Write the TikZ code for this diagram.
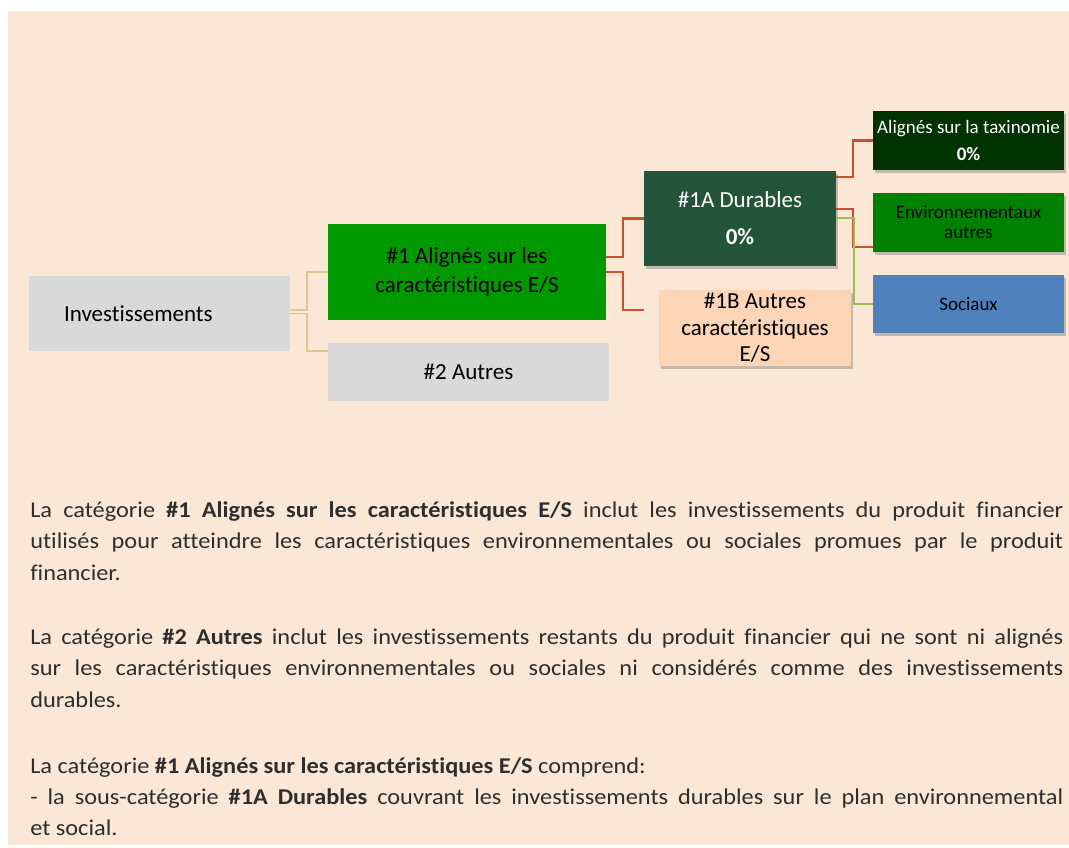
\documentclass[tikz,border=0pt]{standalone}
\usepackage{fontspec}
\setmainfont{Carlito}[Ligatures={NoCommon}]
\newfontfamily\bodyfont{Carlito}[FakeStretch=1.08,Ligatures={NoCommon}]
\usetikzlibrary{shadows,calc}
\definecolor{bgpeach}{HTML}{FAE7D6}
\definecolor{boxgray}{HTML}{D9D9D9}
\definecolor{greenone}{HTML}{009900}
\definecolor{darkgreenA}{HTML}{24553A}
\definecolor{peachB}{HTML}{FBD5B5}
\definecolor{taxogreen}{HTML}{003300}
\definecolor{envgreen}{HTML}{008000}
\definecolor{socblue}{HTML}{4F81BD}
\definecolor{khakiline}{HTML}{D6CA92}
\definecolor{redline}{HTML}{C8502E}
\definecolor{greenline}{HTML}{9BBB59}
\definecolor{bodygray}{HTML}{2E2E2E}
\begin{document}
\begin{tikzpicture}[x=0.75pt,y=-0.75pt,
  box/.style={rectangle, inner sep=0pt, align=center, text=black, font=\fontsize{17.25}{21.75}\selectfont},
  smallbox/.style={box, minimum width=143.25pt, font=\fontsize{14.25}{20.25}\selectfont},
  shad/.style={drop shadow={shadow xshift=1.8pt, shadow yshift=-2.2pt, opacity=0.3, fill=black!70}},
  khaki/.style={draw=khakiline, line width=1.4pt},
  redc/.style={draw=redline, line width=1.6pt},
  greenc/.style={draw=greenline, line width=1.5pt},
  bodyline/.style={anchor=base west, inner sep=0pt, text=bodygray, font=\bodyfont\fontsize{16.9}{20}\selectfont}
]
\useasboundingbox (0,0) rectangle (1069,848);
\fill[white] (0,0) rectangle (1069,848);
\fill[bgpeach] (8,11) rectangle (1069,845);

% boxes
\node[box, fill=boxgray, minimum height=56.25pt, text width=195.75pt, align=left] (inv) at (159.5,313.5) {\hspace*{26.25pt}Investissements};
\node[box, fill=greenone, minimum width=208.5pt, minimum height=72pt] (one) at (467,272) {\#1 Alignés sur les\\caractéristiques E/S};
\node[box, fill=boxgray, minimum width=210.75pt, minimum height=43.5pt] (two) at (468.5,372) {\#2 Autres};
\node[box, shad, fill=darkgreenA, text=white, minimum width=144pt, minimum height=71.25pt, font=\fontsize{17.25}{27.75}\selectfont] (oneA) at (740,218.5) {\#1A Durables\\\textbf{0\%}};
\node[box, shad, fill=peachB, minimum width=144pt, minimum height=57pt, font=\fontsize{17.25}{19.9}\selectfont] (oneB) at (755,328) {\#1B Autres\\caractéristiques\\E/S};
\node[smallbox, shad, fill=taxogreen, text=white, minimum height=44.25pt] (taxo) at (968.5,140.5) {Alignés sur la taxinomie\\\textbf{0\%}};
\node[smallbox, shad, fill=envgreen, minimum height=44.25pt, font=\fontsize{14.25}{15}\selectfont] (env) at (968.5,222.5) {Environnementaux\\autres};
\node[smallbox, shad, fill=socblue, minimum height=43.5pt] (soc) at (968.5,304) {Sociaux};

% connectors
\draw[khaki] ($(inv.east)+(0,-3.5)$) -- ++(17,0) |- (one.west);
\draw[khaki] (inv.east) -- ++(17,0) |- ($(two.north west)+(0,8)$);
\draw[redc] ($(one.east)+(0,-15)$) -- ++(17,0) |- (oneA.west);
\draw[redc] (one.east) -- ++(17,0) |- ($(oneB.west)+(-15,-18)$);
\draw[redc] ($(oneA.east)+(0,-41.5)$) -- ++(17,0) |- (taxo.west);
\draw[redc] ($(oneA.east)+(0,-9.5)$) -- ++(17,0) |- ($(env.west)+(0,24.5)$);
\draw[greenc] (oneA.east) -- ++(18,0) |- (soc.west);

% body text
\node[bodyline] (p1a) at (30,517) {\makebox[774.75pt][s]{La catégorie \textbf{\#1 Alignés sur les caractéristiques E/S} inclut les investissements du produit financier}};
\node[bodyline] (p1b) at (30,548.5) {\makebox[774.75pt][s]{utilisés pour atteindre les caractéristiques environnementales ou sociales promues par le produit}};
\node[bodyline] (p1c) at (30,580) {financier.};
\node[bodyline] (p2a) at (30,644) {\makebox[774.75pt][s]{La catégorie \textbf{\#2 Autres} inclut les investissements restants du produit financier qui ne sont ni alignés}};
\node[bodyline] (p2b) at (30,675.5) {\makebox[774.75pt][s]{sur les caractéristiques environnementales ou sociales ni considérés comme des investissements}};
\node[bodyline] (p2c) at (30,707) {durables.};
\node[bodyline] (p3a) at (30,773) {La catégorie \textbf{\#1 Alignés sur les caractéristiques E/S} comprend:};
\node[bodyline] (p3b) at (30,804) {\makebox[774.75pt][s]{- la sous-catégorie \textbf{\#1A Durables} couvrant les investissements durables sur le plan environnemental}};
\node[bodyline] (p3c) at (30,835) {et social.};
\end{tikzpicture}
\end{document}
